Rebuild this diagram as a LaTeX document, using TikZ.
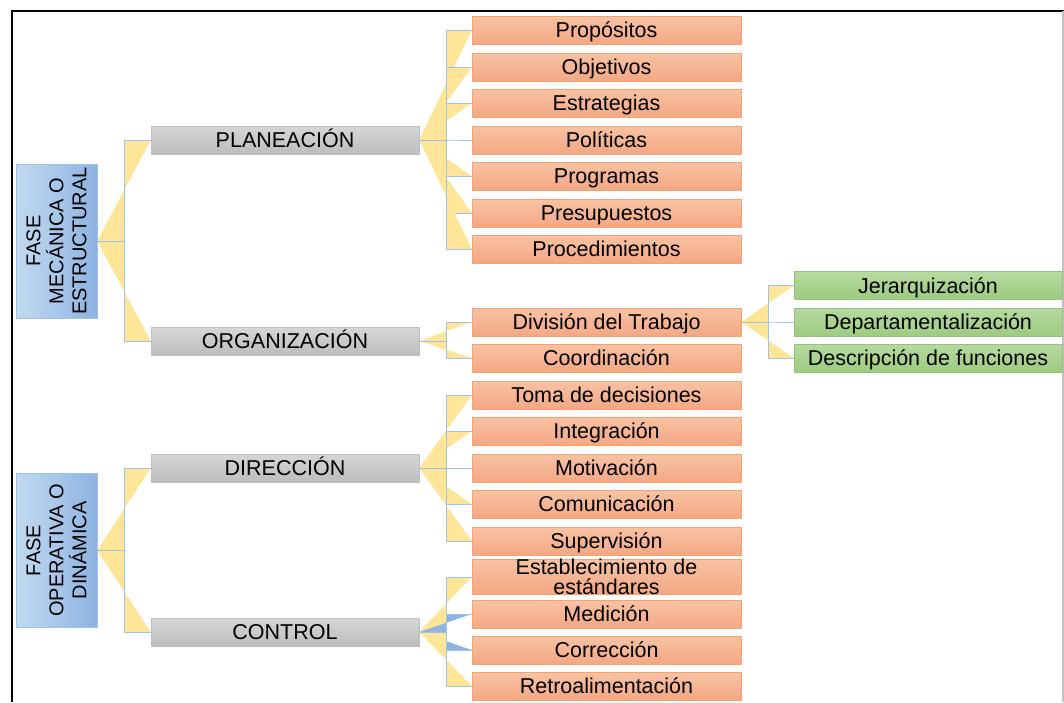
\documentclass[tikz,border=0pt]{standalone}
\usepackage{fontspec}
\setmainfont{Liberation Sans}
\usetikzlibrary{backgrounds}

\definecolor{wedge}{HTML}{FFE597}
\definecolor{wedgeblue}{HTML}{8FB4E3}
\definecolor{busline}{HTML}{9DC3E6}
\definecolor{faseborder}{HTML}{9DC3E6}
\definecolor{faselight}{HTML}{C2DAF0}
\definecolor{fasedark}{HTML}{8DB3E2}
\definecolor{grayborder}{HTML}{BFBFBF}
\definecolor{graytop}{HTML}{D6D6D6}
\definecolor{graybot}{HTML}{BDBDBD}
\definecolor{orangeborder}{HTML}{F4A274}
\definecolor{orangetop}{HTML}{F8C3A4}
\definecolor{orangebot}{HTML}{F4A783}
\definecolor{greenborder}{HTML}{93C47D}
\definecolor{greentop}{HTML}{B6D9A0}
\definecolor{greenbot}{HTML}{9DCB80}

\begin{document}
\begin{tikzpicture}[x=1pt,y=-1pt,
  every node/.style={font=\fontsize{21.5}{24}\selectfont,inner sep=0pt,align=center},
  unalinea/.style={text height=15.4pt,text depth=0pt},
  fase/.style={draw=faseborder,left color=faselight,right color=fasedark,
    minimum width=154pt,minimum height=81pt,rotate=90,
    font=\fontsize{20}{23}\selectfont},
  etapa/.style={draw=grayborder,top color=graytop,bottom color=graybot,
    minimum width=268pt,minimum height=28pt,unalinea},
  elemento/.style={draw=orangeborder,top color=orangetop,bottom color=orangebot,
    minimum width=269pt,minimum height=28pt,unalinea},
  detalle/.style={draw=greenborder,top color=greentop,bottom color=greenbot,
    minimum width=268pt,minimum height=28pt,unalinea},
  conn/.style={draw=busline,fill=wedge,line width=0.8pt}]

  \useasboundingbox (0,0) rectangle (1064,702);

  % Fases
  \node[fase] (fm) at (56.5,241) {FASE\\MECÁNICA O\\ESTRUCTURAL};
  \node[fase] (fo) at (56.5,550.5) {FASE\\OPERATIVA O\\DINÁMICA};

  % Etapas del proceso
  \node[etapa] (plan) at (285,140) {PLANEACIÓN};
  \node[etapa] (orga) at (285,341) {ORGANIZACIÓN};
  \node[etapa] (dire) at (285,468) {DIRECCIÓN};
  \node[etapa] (cont) at (285,632) {CONTROL};

  % Elementos de cada etapa
  \node[elemento] (prop) at (606.5,30) {Propósitos};
  \node[elemento] (obje) at (606.5,67) {Objetivos};
  \node[elemento] (estr) at (606.5,103) {Estrategias};
  \node[elemento] (poli) at (606.5,140) {Políticas};
  \node[elemento] (prog) at (606.5,176) {Programas};
  \node[elemento] (pres) at (606.5,213) {Presupuestos};
  \node[elemento] (proc) at (606.5,249) {Procedimientos};
  \node[elemento] (divi) at (606.5,322) {División del Trabajo};
  \node[elemento] (coor) at (606.5,358) {Coordinación};
  \node[elemento] (toma) at (606.5,395) {Toma de decisiones};
  \node[elemento] (inte) at (606.5,431) {Integración};
  \node[elemento] (moti) at (606.5,468) {Motivación};
  \node[elemento] (comu) at (606.5,504) {Comunicación};
  \node[elemento] (supe) at (606.5,541) {Supervisión};
  \node[elemento,text height=,text depth=,font=\fontsize{21.5}{19.5}\selectfont]
    (esta) at (606.5,577) {Establecimiento de\\estándares};
  \node[elemento] (medi) at (606.5,614) {Medición};
  \node[elemento] (corr) at (606.5,650) {Corrección};
  \node[elemento] (retr) at (606.5,686) {Retroalimentación};

  \node[detalle] (jera) at (928,285.5) {Jerarquización};
  \node[detalle] (depa) at (928,322) {Departamentalización};
  \node[detalle] (desc) at (928,358) {Descripción de funciones};

  \begin{scope}[on background layer]
    \foreach \c in {plan,orga}
      \draw[conn] (fm.south) -- ++(27,0) |- (\c.west);
    \foreach \c in {dire,cont}
      \draw[conn] (fo.south) -- ++(27,0) |- (\c.west);
    \foreach \c in {prop,obje,estr,poli,prog,pres,proc}
      \draw[conn] (plan.east) -- ++(27,0) |- (\c.west);
    \foreach \c in {divi,coor}
      \draw[conn] (orga.east) -- ++(27,0) |- (\c.west);
    \foreach \c in {toma,inte,moti,comu,supe}
      \draw[conn] (dire.east) -- ++(27,0) |- (\c.west);
    \draw[conn] (cont.east) -- ++(27,0) |- (esta.west);
    \draw[conn,fill=wedgeblue] (cont.east) -- ++(27,0) |- (medi.west);
    \draw[conn,fill=wedgeblue] (cont.east) -- ++(27,0) |- (corr.west);
    \draw[conn] (cont.east) -- ++(27,0) |- (retr.west);
    \foreach \c in {jera,depa,desc}
      \draw[conn] (divi.east) -- ++(27,0) |- (\c.west);

    % marco
    \draw[line width=2pt] (11.5,702) -- (11.5,10.5) -- (1064,10.5);
    \draw[black!25,line width=1.5pt] (1063,10.5) -- (1063,702);
  \end{scope}

\end{tikzpicture}
\end{document}
